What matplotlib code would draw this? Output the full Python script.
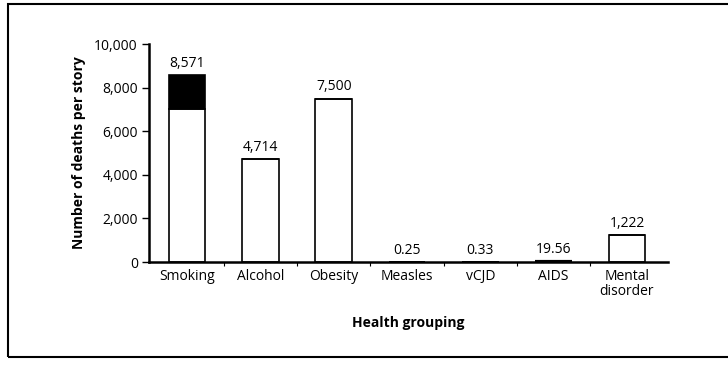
import matplotlib
matplotlib.use("Agg")
import matplotlib.pyplot as plt
from matplotlib.patches import Rectangle

categories = ["Smoking", "Alcohol", "Obesity", "Measles", "vCJD", "AIDS", "Mental\ndisorder"]
deaths = [8571, 4714, 7500, 0.25, 0.33, 19.56, 1222]
value_labels = ["8,571", "4,714", "7,500", "0.25", "0.33", "19.56", "1,222"]
# portion of each bar drawn in solid black (from the top of the bar)
dark_part = [1571, 0, 0, 0, 0, 19.56, 0]
yticks = [0, 2000, 4000, 6000, 8000, 10000]
ytick_labels = ["0", "2,000", "4,000", "6,000", "8,000", "10,000"]

plt.rcParams["font.family"] = ["Open Sans", "DejaVu Sans"]
FS = 10

fig = plt.figure(figsize=(7.28, 3.70), dpi=100)
ax = fig.add_axes([149 / 728, 1 - 262 / 370, (668 - 149) / 728, (262 - 44) / 370])

x = list(range(len(categories)))
light = [d - k for d, k in zip(deaths, dark_part)]
ax.bar(x, light, width=0.5, color="white", edgecolor="black", linewidth=1.2, zorder=2)
# the thin AIDS bar gets a heavier outline so it stays visible on the axis
dark_lw = [3.0 if (k > 0 and k < 100) else 1.2 for k in dark_part]
ax.bar(x, dark_part, bottom=light, width=0.5, color="black", edgecolor="black",
       linewidth=dark_lw, zorder=3)

for xi, v, lab in zip(x, deaths, value_labels):
    ax.annotate(lab, (xi, v), xytext=(0, 3), textcoords="offset points",
                ha="center", va="bottom", fontsize=FS)

ax.set_xlim(-0.52, 6.56)
ax.set_ylim(0, 10000)
ax.set_yticks(yticks)
ax.set_yticklabels(ytick_labels, fontsize=FS)
ax.set_xticks(x)
ax.set_xticklabels(categories, fontsize=FS, linespacing=1.05)
ax.tick_params(axis="x", length=0, pad=5)
ax.tick_params(axis="y", length=5, width=1, pad=3)
# short boundary ticks between categories
ax.set_xticks([i + 0.5 for i in range(len(categories) - 1)], minor=True)
ax.tick_params(axis="x", which="minor", length=3, width=0.8, direction="out")

for s in ["top", "right"]:
    ax.spines[s].set_visible(False)
ax.spines["left"].set_linewidth(1.8)
ax.spines["bottom"].set_linewidth(1.8)

ax.set_ylabel("Number of deaths per story", fontsize=FS, fontweight="bold", labelpad=6)
ax.set_xlabel("Health grouping", fontsize=FS, fontweight="bold", labelpad=12)

# outer frame around the figure
frame = Rectangle((8 / 728, 1 - 357 / 370), 1.0, (357 - 4) / 370, transform=fig.transFigure,
                  fill=False, edgecolor="black", linewidth=1.5)
fig.patches.append(frame)

fig.savefig("out.png", dpi=100, facecolor="white")
